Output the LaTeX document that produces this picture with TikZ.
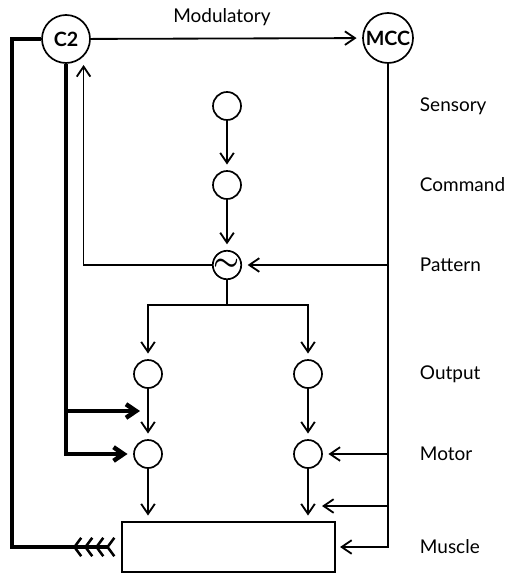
\documentclass[tikz,border=0pt]{standalone}
\usepackage{bm}
\usepackage{fontspec}
\setmainfont{Lato}
\usetikzlibrary{arrows.meta}

\tikzset{
  cell/.style={draw,circle,line width=1.2pt,minimum size=7mm,inner sep=0pt},
  hub/.style={cell,minimum size=12mm,font=\fontsize{14}{16}\selectfont\bfseries},
  link/.style={line width=1.3pt,-{Straight Barb[length=2.5mm,width=3.4mm]},shorten >=4pt},
  heavy/.style={link,line width=3.2pt},
  level/.style={anchor=west},
  chev/.tip={Straight Barb[reversed,length=1.7mm,width=4.6mm,line width=1.8pt,sep=0.35mm]}
}

\begin{document}
\begin{tikzpicture}[x=0.25mm,y=-0.25mm,font=\fontsize{13.5}{16}\selectfont]
  \useasboundingbox (0,0) rectangle (510,574);
  % neurons
  \node[hub] (c2) at (66,39) {C2};
  \node[hub,minimum size=12.5mm] (mcc) at (388,38) {MCC};
  \node[cell] (sens) at (227,106) {};
  \node[cell] (cmd) at (227,185) {};
  \node[cell,minimum size=6.5mm] (pat) at (227,265) {\fontsize{22}{22}\selectfont$\bm{\sim}$};
  \node[cell] (outL) at (148,374) {};
  \node[cell] (outR) at (308,374) {};
  \node[cell] (motL) at (148,454) {};
  \node[cell] (motR) at (308,454) {};
  \node[draw,line width=1.2pt,minimum width=53.25mm,minimum height=12.5mm,inner sep=0pt] (musc) at (228.5,547) {};
  % labels
  \node (lmod) at (222,17) {Modulatory};
  \node[level] (lsens) at (415,106) {Sensory};
  \node[level] (lcmd) at (415,185) {Command};
  \node[level] (lpat) at (415,265) {Pattern};
  \node[level] (lout) at (415,374) {Output};
  \node[level] (lmot) at (415,454) {Motor};
  \node[level] (lmus) at (415,547) {Muscle};
  \coordinate (split) at (227,305);
  \coordinate (gap) at (322,506);
  \coordinate (boost) at (140,411);
  \coordinate (fb) at (117,547);
  % central chain
  \draw[link] (c2) -- (mcc);
  \draw[link] (sens) -- (cmd);
  \draw[link] (cmd) -- (pat);
  \draw[line width=1.3pt] (pat) -- (split);
  \draw[link] (split) -| (outL);
  \draw[link] (split) -| (outR);
  \draw[link] (outL) -- (motL);
  \draw[link] (outR) -- (motR);
  \draw[link] (motL) -- (musc.north -| motL);
  \draw[link] (motR) -- (musc.north -| motR);
  \draw[link,shorten >=6pt] (pat) -| (c2.-45);
  % MCC outputs
  \draw[link,shorten >=3pt] (mcc) |- (musc.east);
  \draw[link] (mcc |- pat) -- (pat);
  \draw[link] (mcc |- motR) -- (motR);
  \draw[link,shorten >=0pt] (mcc |- gap) -- (gap);
  % C2 outputs
  \draw[heavy] (c2) |- (motL);
  \draw[heavy,shorten >=0pt] (c2 |- boost) -- (boost);
  \draw[line width=3.2pt,-{chev[]chev[]chev[]chev[]}] (c2.west) -- ++(-29,0) |- (fb);
\end{tikzpicture}
\end{document}
